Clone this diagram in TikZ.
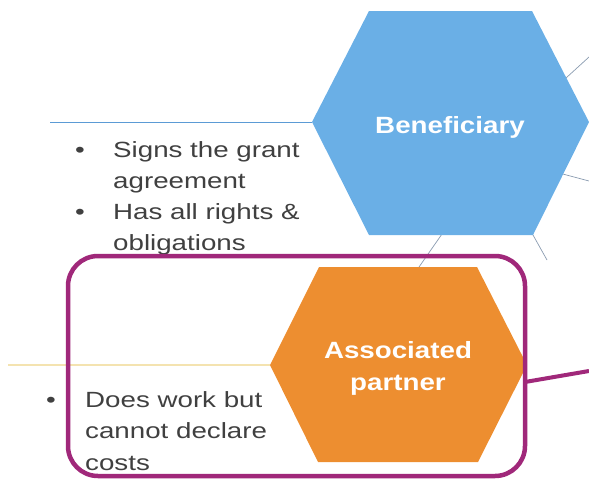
\documentclass[tikz,border=0pt]{standalone}
\usepackage{fontspec}
\setmainfont{Liberation Sans}
\newfontfamily\bodyfont[FakeStretch=1.26]{Liberation Sans}
\newfontfamily\lblfont[FakeStretch=1.18]{Liberation Sans}
\definecolor{hexblue}{HTML}{6AAFE6}
\definecolor{hexorange}{HTML}{ED8E30}
\definecolor{boxpurple}{HTML}{A0287A}
\definecolor{thingray}{HTML}{8A9BB0}
\definecolor{lineblue}{HTML}{5B9BD5}
\definecolor{lineyellow}{HTML}{F4E3B0}
\definecolor{bodygray}{HTML}{404040}
\tikzset{
  bodytext/.style={anchor=base west, inner sep=0pt, text=bodygray, font=\bodyfont\fontsize{22}{22}\selectfont},
  bullettext/.style={anchor=base, inner sep=0pt, text=bodygray, font=\bodyfont\fontsize{22}{22}\selectfont},
  lbltext/.style={anchor=base, inner sep=0pt, text=white, font=\lblfont\bfseries\fontsize{23.5}{23.5}\selectfont},
  thinline/.style={draw=thingray, line width=0.7pt},
}
\begin{document}
\begin{tikzpicture}[x=1pt,y=-1pt]
\useasboundingbox (0,0) rectangle (589,479);
% blue hexagon vertices
\coordinate (b1) at (369,11);
\coordinate (b2) at (532,11);
\coordinate (b3) at (589,122);
\coordinate (b4) at (533,235);
\coordinate (b5) at (369,235);
\coordinate (b6) at (312,122);
% orange hexagon vertices
\coordinate (o1) at (319,267);
\coordinate (o2) at (477,267);
\coordinate (o3) at (527,365);
\coordinate (o4) at (478,462);
\coordinate (o5) at (318,462);
\coordinate (o6) at (270,365);
% connector end points
\coordinate (bl) at (50,122);
\coordinate (yl) at (8,365);
\coordinate (g1a) at (566,78);  \coordinate (g1b) at (589,57);
\coordinate (g2a) at (559,173); \coordinate (g2b) at (589,181);
\coordinate (g3b) at (547,260);
\coordinate (g4a) at (442,234); \coordinate (g4b) at (419,267);
\coordinate (pa) at (525,382); \coordinate (pb) at (589,371);
% thin connectors
\draw[draw=lineblue, line width=1pt] (bl) -- (b6);
\draw[draw=lineyellow, line width=1.2pt] (yl) -- (o6);
\draw[thinline] (g1a) -- (g1b);
\draw[thinline] (g2a) -- (g2b);
\draw[thinline] (b4) -- (g3b);
\draw[thinline] (g4a) -- (g4b);
% hexagons
\fill[hexblue] (b1) -- (b2) -- (b3) -- (b4) -- (b5) -- (b6) -- cycle;
\fill[hexorange] (o1) -- (o2) -- (o3) -- (o4) -- (o5) -- (o6) -- cycle;
% labels
\node[lbltext] (ben) at (450,133) {Beneficiary};
\node[lbltext] (as1) at (398,358) {Associated};
\node[lbltext] (as2) at (398,390) {partner};
% bullet texts
\node[bullettext] (bu1) at (80,157) {•};
\node[bodytext] (t1) at (113,157) {Signs the grant};
\node[bodytext] (t2) at (113,188) {agreement};
\node[bullettext] (bu2) at (80,219) {•};
\node[bodytext] (t3) at (113,219) {Has all rights \&};
\node[bodytext] (t4) at (113,250) {obligations};
\node[bullettext] (bu3) at (51,407) {•};
\node[bodytext] (t5) at (85,407) {Does work but};
\node[bodytext] (t6) at (85,438) {cannot declare};
\node[bodytext] (t7) at (85,470) {costs};
% purple box and connector
\draw[draw=boxpurple, line width=4.5pt, rounded corners=30pt] (68,256) rectangle (525,476);
\draw[draw=boxpurple, line width=4pt] (pa) -- (pb);
\end{tikzpicture}
\end{document}
